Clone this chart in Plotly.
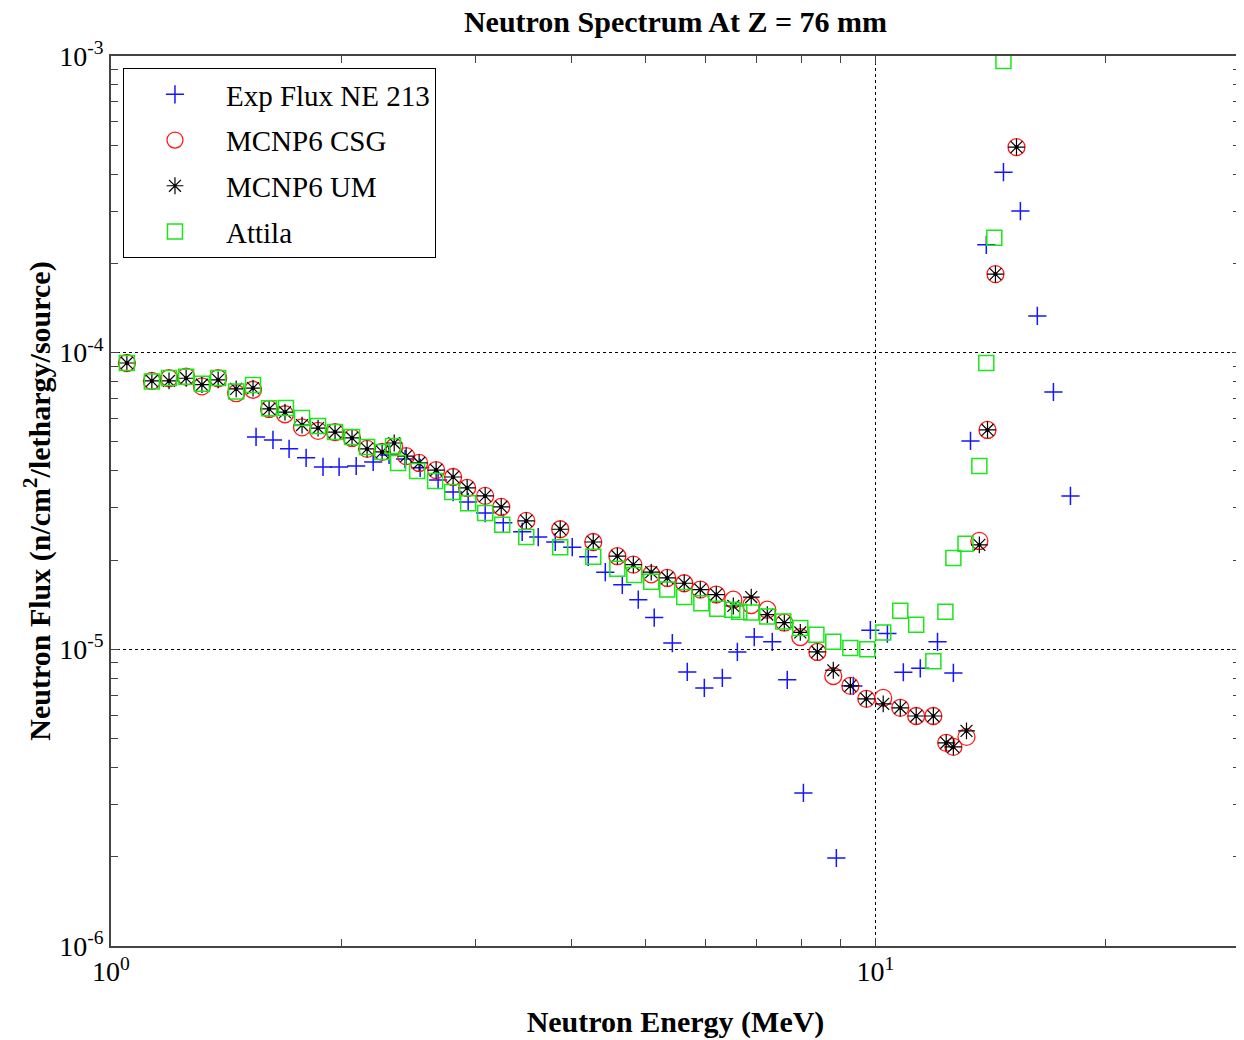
import plotly.graph_objects as go

# ---------------- data ----------------
exp_energy = [1.548, 1.629, 1.710, 1.800, 1.894, 1.988, 2.093, 2.203, 2.311, 2.425,
              2.538, 2.679, 2.803, 2.933, 3.087, 3.260, 3.451, 3.622, 3.813, 4.013,
              4.211, 4.433, 4.666, 4.896, 5.137, 5.425, 5.675, 5.974, 6.307, 6.599,
              6.944, 7.331, 7.669, 8.052, 8.892, 9.359, 9.851, 10.37, 10.88, 11.45,
              12.06, 12.65, 13.32, 13.97, 14.71, 15.48, 16.29, 17.10, 18.00]
exp_flux = [5.20e-5, 5.08e-5, 4.74e-5, 4.42e-5, 4.12e-5, 4.12e-5, 4.15e-5, 4.28e-5, 4.52e-5, 4.38e-5,
            4.09e-5, 3.72e-5, 3.39e-5, 3.14e-5, 2.88e-5, 2.67e-5, 2.49e-5, 2.39e-5, 2.30e-5, 2.21e-5,
            2.05e-5, 1.82e-5, 1.65e-5, 1.47e-5, 1.28e-5, 1.05e-5, 8.39e-6, 7.41e-6, 8.01e-6, 9.80e-6,
            1.10e-5, 1.06e-5, 7.89e-6, 3.28e-6, 1.98e-6, 7.53e-6, 1.16e-5, 1.13e-5, 8.37e-6, 8.63e-6,
            1.06e-5, 8.33e-6, 5.04e-5, 2.31e-4, 4.06e-4, 3.00e-4, 1.33e-4, 7.37e-5, 3.29e-5]

mcnp_energy = [1.049, 1.131, 1.191, 1.254, 1.315, 1.381, 1.458, 1.534, 1.610, 1.689,
               1.778, 1.866, 1.964, 2.067, 2.163, 2.263, 2.347, 2.433, 2.530, 2.663,
               2.803, 2.924, 3.087, 3.240, 3.494, 3.870, 4.275, 4.597, 4.824, 5.091,
               5.343, 5.623, 5.902, 6.193, 6.519, 6.881, 7.222, 7.602, 7.977, 8.398,
               8.810, 9.275, 9.732, 10.24, 10.78, 11.31, 11.91, 12.38, 12.65, 13.16,
               13.68, 14.02, 14.36, 15.30]
csg_flux = [9.23e-5, 8.03e-5, 8.20e-5, 8.30e-5, 7.70e-5, 8.20e-5, 7.30e-5, 7.50e-5, 6.46e-5, 6.20e-5,
            5.60e-5, 5.45e-5, 5.40e-5, 5.16e-5, 4.74e-5, 4.63e-5, 4.81e-5, 4.48e-5, 4.25e-5, 4.02e-5,
            3.81e-5, 3.50e-5, 3.29e-5, 3.02e-5, 2.71e-5, 2.54e-5, 2.30e-5, 2.06e-5, 1.93e-5, 1.79e-5,
            1.74e-5, 1.67e-5, 1.59e-5, 1.53e-5, 1.47e-5, 1.41e-5, 1.36e-5, 1.23e-5, 1.10e-5, 9.80e-6,
            8.13e-6, 7.53e-6, 6.81e-6, 6.86e-6, 6.35e-6, 5.96e-6, 5.96e-6, 4.84e-6, 4.69e-6, 5.07e-6,
            2.32e-5, 5.49e-5, 1.84e-4, 4.93e-4]
um_flux = [9.23e-5, 8.03e-5, 8.03e-5, 8.20e-5, 7.80e-5, 8.10e-5, 7.55e-5, 7.60e-5, 6.46e-5, 6.30e-5,
           5.70e-5, 5.57e-5, 5.40e-5, 5.16e-5, 4.74e-5, 4.63e-5, 4.96e-5, 4.48e-5, 4.25e-5, 4.02e-5,
           3.81e-5, 3.50e-5, 3.29e-5, 3.02e-5, 2.71e-5, 2.54e-5, 2.30e-5, 2.06e-5, 1.93e-5, 1.82e-5,
           1.74e-5, 1.67e-5, 1.59e-5, 1.53e-5, 1.40e-5, 1.50e-5, 1.31e-5, 1.23e-5, 1.14e-5, 9.80e-6,
           8.50e-6, 7.53e-6, 6.81e-6, 6.55e-6, 6.35e-6, 5.96e-6, 5.96e-6, 4.84e-6, 4.69e-6, 5.31e-6,
           2.25e-5, 5.49e-5, 1.84e-4, 4.93e-4]

attila_energy = [1.049, 1.131, 1.191, 1.254, 1.315, 1.381, 1.458, 1.534, 1.610, 1.694,
                 1.778, 1.866, 1.964, 2.067, 2.163, 2.263, 2.339, 2.375, 2.515, 2.655,
                 2.795, 2.933, 3.087, 3.250, 3.494, 3.870, 4.275, 4.597, 4.838, 5.091,
                 5.343, 5.623, 5.920, 6.212, 6.499, 6.637, 6.881, 7.222, 7.578, 7.977,
                 8.373, 8.810, 9.275, 9.761, 10.24, 10.78, 11.31, 11.91, 12.35, 12.65,
                 13.12, 13.68, 13.97, 14.31, 14.71]
attila_flux = [9.23e-5, 8.00e-5, 8.22e-5, 8.30e-5, 7.85e-5, 8.22e-5, 7.40e-5, 7.78e-5, 6.50e-5, 6.51e-5,
               6.02e-5, 5.66e-5, 5.40e-5, 5.20e-5, 4.81e-5, 4.63e-5, 4.85e-5, 4.25e-5, 3.99e-5, 3.69e-5,
               3.39e-5, 3.11e-5, 2.88e-5, 2.63e-5, 2.39e-5, 2.21e-5, 2.05e-5, 1.87e-5, 1.78e-5, 1.69e-5,
               1.59e-5, 1.50e-5, 1.43e-5, 1.37e-5, 1.36e-5, 1.34e-5, 1.33e-5, 1.29e-5, 1.24e-5, 1.18e-5,
               1.12e-5, 1.06e-5, 1.01e-5, 1.00e-5, 1.14e-5, 1.35e-5, 1.21e-5, 9.11e-6, 1.34e-5, 2.03e-5,
               2.27e-5, 4.15e-5, 9.23e-5, 2.44e-4, 9.62e-4]

x_tickvals = [1, 10]
x_ticktext = ["10<sup>0</sup>", "10<sup>1</sup>"]
x_minor = [2, 3, 4, 5, 6, 7, 8, 9, 20, 30]
y_tickvals = [1e-6, 1e-5, 1e-4, 1e-3]
y_ticktext = ["10<sup>-6</sup>", "10<sup>-5</sup>", "10<sup>-4</sup>", "10<sup>-3</sup>"]
y_minor = [m * 10.0 ** e for e in (-6, -5, -4) for m in (2, 3, 4, 5, 6, 7, 8, 9)]

FONT = "Liberation Serif"

fig = go.Figure()
fig.add_trace(go.Scatter(x=exp_energy, y=exp_flux, mode="markers", name="Exp Flux NE 213",
                         legendgroup="a",
                         marker=dict(symbol="cross-thin-open", size=13, color="#1515ff",
                                     line=dict(color="#1515ff", width=1.5))))
fig.add_trace(go.Scatter(x=mcnp_energy, y=csg_flux, mode="markers", name="MCNP6 CSG",
                         legendgroup="b",
                         marker=dict(symbol="circle-open", size=17, color="#ff1a1a",
                                     line=dict(color="#ff1a1a", width=1.3))))
fig.add_trace(go.Scatter(x=mcnp_energy, y=um_flux, mode="markers", name="MCNP6 UM",
                         legendgroup="c",
                         marker=dict(symbol="asterisk-open", size=14, color="black",
                                     line=dict(color="black", width=1.2))))
fig.add_trace(go.Scatter(x=mcnp_energy, y=um_flux, mode="markers", showlegend=False,
                         legendgroup="c", hoverinfo="skip",
                         marker=dict(symbol="circle", size=4, color="black")))
fig.add_trace(go.Scatter(x=attila_energy, y=attila_flux, mode="markers", name="Attila",
                         legendgroup="d",
                         marker=dict(symbol="square-open", size=15, color="#18e818",
                                     line=dict(color="#18e818", width=1.5))))

axis_common = dict(
    type="log", showline=True, linecolor="#444444", linewidth=1.5, mirror="allticks",
    ticks="inside", ticklen=8, tickcolor="#444444", tickwidth=1.2,
    showgrid=True, gridcolor="black", griddash="dot", gridwidth=1,
    zeroline=False, tickmode="array",
    tickfont=dict(family=FONT, size=28, color="black"),
)

fig.update_xaxes(**axis_common, range=[0, 1.4771],
                 tickvals=x_tickvals, ticktext=x_ticktext,
                 minor=dict(tickmode="array", tickvals=x_minor, ticks="inside",
                            ticklen=7, tickcolor="#444444", showgrid=False),
                 title=dict(text="<b>Neutron Energy (MeV)</b>", standoff=25,
                            font=dict(family=FONT, size=30, color="black")))
fig.update_yaxes(**axis_common, range=[-6, -3],
                 tickvals=y_tickvals, ticktext=y_ticktext,
                 minor=dict(tickmode="array", tickvals=y_minor, ticks="inside",
                            ticklen=7, tickcolor="#444444", showgrid=False),
                 title=dict(text="<b>Neutron Flux (n/cm<sup>2</sup>/lethargy/source)</b>", standoff=0,
                            font=dict(family=FONT, size=30, color="black")))

fig.update_layout(
    width=1236, height=1032,
    margin=dict(l=103, r=4, t=48, b=94, autoexpand=False),
    paper_bgcolor="white", plot_bgcolor="white",
    title=dict(text="<b>Neutron Spectrum At Z = 76 mm</b>", x=0.5, xref="paper",
               y=1 - 13 / 1032, yref="container", yanchor="middle",
               font=dict(family=FONT, size=30, color="black")),
    legend=dict(x=0.0106, y=0.9865, xanchor="left", yanchor="top",
                bgcolor="white", bordercolor="black", borderwidth=1,
                font=dict(family=FONT, size=29, color="black"),
                itemwidth=92, tracegroupgap=5, traceorder="grouped"),
    showlegend=True,
)

fig.write_html("out.html")
